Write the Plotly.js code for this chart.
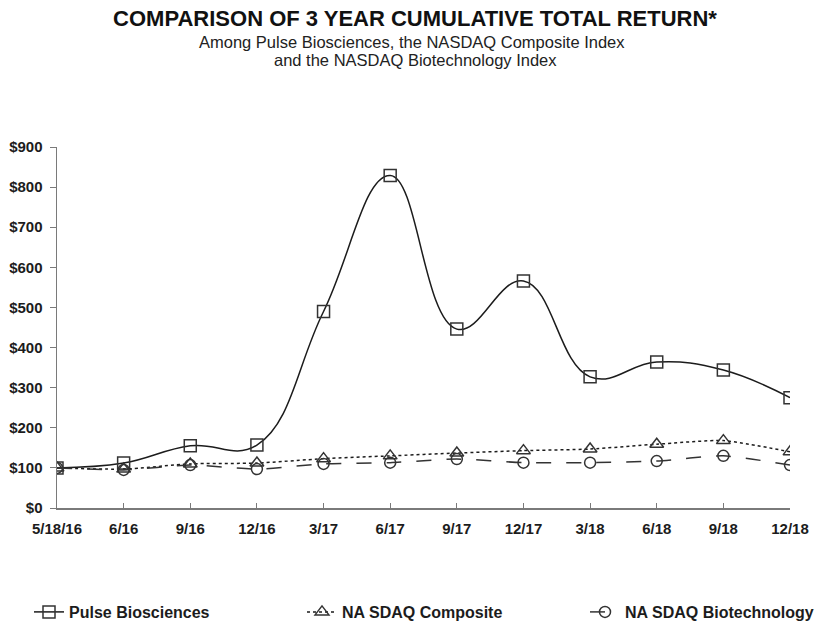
<!DOCTYPE html>
<html>
<head>
<meta charset="utf-8">
<script src="https://cdn.plot.ly/plotly-3.0.1.min.js"></script>
<style>
  html, body { margin: 0; padding: 0; background: #fff; }
  #chart { width: 831px; height: 628px; }
</style>
</head>
<body>
<div id="chart"></div>
<script>
// ---- data ----
const periods = ["5/18/16", "6/16", "9/16", "12/16", "3/17", "6/17", "9/17", "12/17", "3/18", "6/18", "9/18", "12/18"];
const pulseBiosciences = [100, 112, 155, 157, 490, 829, 446, 566, 327, 364, 344, 275];
const nasdaqComposite  = [100, 97, 110, 112, 123, 130, 137, 143, 147, 159, 168, 140];
const nasdaqBiotech    = [100, 95, 107, 97, 110, 113, 122, 113, 113, 117, 130, 107];
const yTickValues = [0, 100, 200, 300, 400, 500, 600, 700, 800, 900];
const yTickLabels = ["$0", "$100", "$200", "$300", "$400", "$500", "$600", "$700", "$800", "$900"];
const seriesNames = ["Pulse Biosciences", "NA SDAQ Composite", "NA SDAQ Biotechnology"];

const FONT = "Liberation Sans, Arial, Helvetica, sans-serif";
const INK = "#1c1c1c";
const W = 831, H = 628;

const traces = [
  {
    x: periods, y: pulseBiosciences, name: seriesNames[0], type: "scatter", mode: "lines+markers",
    line: { color: INK, width: 1.5, shape: "spline", smoothing: 1.2 },
    marker: { symbol: "square-open", size: 12, color: "#333", line: { width: 1.5, color: "#333" } },
    legend: "legend"
  },
  {
    x: periods, y: nasdaqComposite, name: seriesNames[1], type: "scatter", mode: "lines+markers",
    line: { color: INK, width: 1.5, dash: "dot", shape: "spline", smoothing: 0.6 },
    marker: { symbol: "triangle-up-open", size: 12, color: "#333", line: { width: 1.5, color: "#333" } },
    legend: "legend2"
  },
  {
    x: periods, y: nasdaqBiotech, name: seriesNames[2], type: "scatter", mode: "lines+markers",
    line: { color: "#333", width: 1.5, dash: "longdash", shape: "spline", smoothing: 0.6 },
    marker: { symbol: "circle-open", size: 11, color: "#333", line: { width: 1.5, color: "#333" } },
    legend: "legend3"
  }
];

const legendBase = {
  orientation: "h", yanchor: "middle", xanchor: "left",
  xref: "container", yref: "container", y: (H - 612) / H,
  font: { family: FONT, size: 16, color: INK, weight: "bold" },
  bgcolor: "rgba(0,0,0,0)", borderwidth: 0
};

const layout = {
  width: W, height: H,
  paper_bgcolor: "#fff", plot_bgcolor: "#fff",
  margin: { l: 57, r: 41, t: 147, b: 120, autoexpand: false },
  showlegend: true,
  title: {
    text: "<b>COMPARISON OF 3 YEAR CUMULATIVE TOTAL RETURN*</b>",
    font: { family: FONT, size: 22, color: "#111" },
    x: 415 / W, xref: "container", xanchor: "center",
    y: (H - 18) / H, yref: "container", yanchor: "middle"
  },
  annotations: [
    { text: "Among Pulse Biosciences, the NASDAQ Composite Index", xref: "paper", yref: "paper",
      x: (412 - 57) / 733, y: (508 - 42) / 361, xanchor: "center", yanchor: "middle", showarrow: false,
      font: { family: FONT, size: 16.5, color: "#222" } },
    { text: "and the NASDAQ Biotechnology Index", xref: "paper", yref: "paper",
      x: (415 - 57) / 733, y: (508 - 60) / 361, xanchor: "center", yanchor: "middle", showarrow: false,
      font: { family: FONT, size: 16.5, color: "#222" } }
  ],
  xaxis: {
    type: "category", range: [0, 11], automargin: false,
    showgrid: false, zeroline: false,
    showline: true, linecolor: "#7a7a7a", linewidth: 1.5,
    ticks: "inside", ticklen: 5, tickcolor: "#7a7a7a", tickwidth: 1,
    ticklabelstandoff: 6,
    tickfont: { family: FONT, size: 15, color: INK, weight: "bold" },
    fixedrange: true
  },
  yaxis: {
    range: [0, 900], automargin: false,
    tickvals: yTickValues, ticktext: yTickLabels,
    showgrid: false, zeroline: false,
    showline: true, linecolor: "#7a7a7a", linewidth: 1.5,
    ticks: "outside", ticklen: 6, tickcolor: "#7a7a7a", tickwidth: 1,
    ticklabelstandoff: 4,
    tickfont: { family: FONT, size: 15, color: INK, weight: "bold" },
    fixedrange: true
  },
  legend:  Object.assign({}, legendBase, { x: 29 / W }),
  legend2: Object.assign({}, legendBase, { x: 302 / W }),
  legend3: Object.assign({}, legendBase, { x: 585 / W })
};

Plotly.newPlot("chart", traces, layout, { staticPlot: true, displayModeBar: false });
</script>
</body>
</html>
